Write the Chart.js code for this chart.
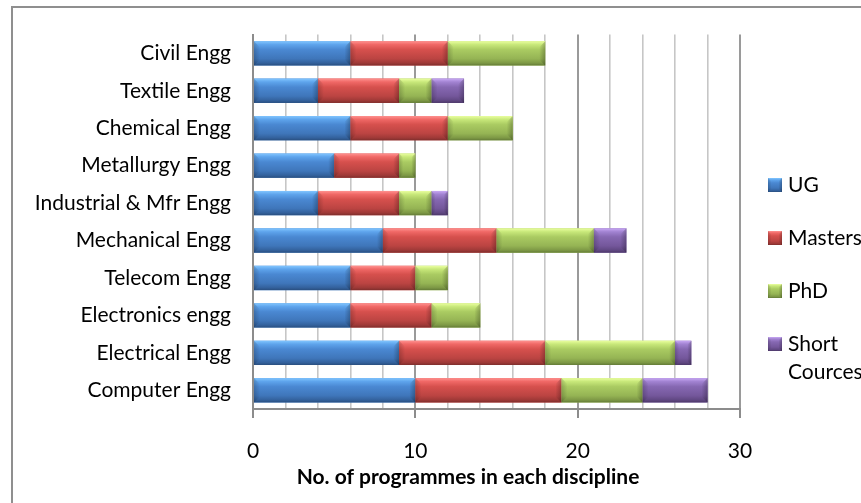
<!DOCTYPE html>
<html>
<head>
<meta charset="utf-8">
<script src="https://cdn.jsdelivr.net/npm/chart.js@4/dist/chart.umd.min.js"></script>
<style>
  html, body { margin: 0; padding: 0; background: #ffffff; }
  #wrap { width: 861px; height: 503px; }
</style>
</head>
<body>
<div id="wrap"><canvas id="chart" width="861" height="503"></canvas></div>
<script>
// Disciplines, listed top to bottom
const categories = [
  'Civil Engg', 'Textile Engg', 'Chemical Engg', 'Metallurgy Engg',
  'Industrial & Mfr Engg', 'Mechanical Engg', 'Telecom Engg',
  'Electronics engg', 'Electrical Engg', 'Computer Engg'
];

// Number of programmes per level
const ugValues      = [6, 4, 6, 5, 4, 8, 6, 6, 9, 10];
const mastersValues = [6, 5, 6, 4, 5, 7, 4, 5, 9, 9];
const phdValues     = [6, 2, 4, 1, 2, 6, 2, 3, 8, 5];
const shortValues   = [0, 2, 0, 0, 1, 2, 0, 0, 1, 4];

const seriesNames = ['UG', 'Masters', 'PhD', 'Short Cources'];

// Axis ticks: gridline every 2, label every 10
const labelledTicks = [0, 10, 20, 30];
const axisTitle = 'No. of programmes in each discipline';

const FONT = 'Lato, "Liberation Sans", sans-serif';

// Shading ramps (highlight -> edge) for the bevelled bars
const palette = [
  { base: '#4a88d2', hi: '#82c6ff', light: '#5ea4ec', mid: '#4a88d2', mid2: '#3f76ba', dark: '#33619c', edge: '#294e7e' },
  { base: '#d44f4c', hi: '#ff9290', light: '#f06866', mid: '#d6504d', mid2: '#bb4442', dark: '#9e3937', edge: '#7e2e2c' },
  { base: '#a9c862', hi: '#eaffa0', light: '#c8e87a', mid: '#aacb62', mid2: '#95b454', dark: '#7d9845', edge: '#637b37' },
  { base: '#8466b0', hi: '#c8a8f4', light: '#a283d2', mid: '#8668b2', mid2: '#74579b', dark: '#604782', edge: '#4c3868' }
];

function shadeRect(ctx, l, t, r, b, c) {
  const w = r - l, h = b - t;
  if (w < 0.5 || h < 0.5) return;
  ctx.save();
  const g = ctx.createLinearGradient(0, t, 0, b);
  g.addColorStop(0, c.hi);
  g.addColorStop(0.14, c.light);
  g.addColorStop(0.35, c.mid);
  g.addColorStop(0.72, c.mid2);
  g.addColorStop(0.9, c.dark);
  g.addColorStop(1, c.edge);
  ctx.fillStyle = g;
  ctx.fillRect(l, t, w, h);
  // bevelled ends
  const e = Math.min(6, w / 4);
  const gl = ctx.createLinearGradient(l, 0, l + e, 0);
  gl.addColorStop(0, 'rgba(0,0,0,0.18)');
  gl.addColorStop(1, 'rgba(0,0,0,0)');
  ctx.fillStyle = gl;
  ctx.beginPath();
  ctx.moveTo(l, t); ctx.lineTo(l + e, t + e); ctx.lineTo(l + e, b - e); ctx.lineTo(l, b); ctx.closePath();
  ctx.fill();
  const gr = ctx.createLinearGradient(r - e, 0, r, 0);
  gr.addColorStop(0, 'rgba(0,0,0,0)');
  gr.addColorStop(1, 'rgba(0,0,0,0.25)');
  ctx.fillStyle = gr;
  ctx.beginPath();
  ctx.moveTo(r, t); ctx.lineTo(r - e, t + e); ctx.lineTo(r - e, b - e); ctx.lineTo(r, b); ctx.closePath();
  ctx.fill();
  ctx.restore();
}

const decorPlugin = {
  id: 'decor',
  beforeDraw(chart) {
    const ctx = chart.ctx;
    ctx.save();
    ctx.fillStyle = '#ffffff';
    ctx.fillRect(0, 0, chart.width, chart.height);
    // chart frame (open towards right and bottom)
    ctx.strokeStyle = '#8f8f8f';
    ctx.lineWidth = 2;
    ctx.beginPath();
    ctx.moveTo(chart.width + 2, 7);
    ctx.lineTo(12, 7);
    ctx.lineTo(12, chart.height + 2);
    ctx.stroke();
    ctx.restore();
  },
  afterDatasetsDraw(chart) {
    const ctx = chart.ctx;
    chart.data.datasets.forEach((ds, i) => {
      const meta = chart.getDatasetMeta(i);
      if (meta.hidden) return;
      meta.data.forEach(bar => {
        const l = Math.min(bar.base, bar.x), r = Math.max(bar.base, bar.x);
        const t = bar.y - bar.height / 2, b = bar.y + bar.height / 2;
        shadeRect(ctx, l, t, r, b, palette[i]);
      });
    });
  },
  afterDraw(chart) {
    const ctx = chart.ctx;
    ctx.save();
    // axis title
    ctx.fillStyle = '#000000';
    ctx.font = 'bold 21px ' + FONT;
    ctx.textAlign = 'center';
    ctx.textBaseline = 'middle';
    ctx.fillText(axisTitle, 468, 477);

    // legend
    ctx.font = '21px ' + FONT;
    ctx.textAlign = 'left';
    const boxX = 768, textX = 788, maxW = 70;
    let y = 185;
    chart.data.datasets.forEach((ds, i) => {
      shadeRect(ctx, boxX, y - 7, boxX + 14, y + 7, palette[i]);
      // wrap words that do not fit
      const words = ds.label.split(' ');
      const lines = [];
      let cur = '';
      words.forEach(wd => {
        const test = cur ? cur + ' ' + wd : wd;
        if (cur && ctx.measureText(test).width > maxW) { lines.push(cur); cur = wd; }
        else cur = test;
      });
      lines.push(cur);
      ctx.fillStyle = '#000000';
      lines.forEach((ln, k) => ctx.fillText(ln, textX, y + k * 28));
      y += 53;
    });
    ctx.restore();
  }
};

const seriesValues = [ugValues, mastersValues, phdValues, shortValues];

new Chart(document.getElementById('chart'), {
  type: 'bar',
  data: {
    labels: categories,
    datasets: seriesNames.map((name, i) => ({
      label: name,
      data: seriesValues[i],
      backgroundColor: palette[i].base,
      borderWidth: 0,
      barPercentage: 0.65,
      categoryPercentage: 1.0
    }))
  },
  options: {
    indexAxis: 'y',
    responsive: false,
    animation: false,
    devicePixelRatio: 1,
    layout: { padding: { top: 30, right: 121, left: 0, bottom: 0 } },
    plugins: {
      legend: { display: false },
      tooltip: { enabled: false },
      title: { display: false }
    },
    scales: {
      y: {
        type: 'category',
        stacked: true,
        grid: { display: false, drawTicks: false },
        border: { display: true, color: '#8c8c8c', width: 2 },
        ticks: { color: '#000000', font: { family: FONT, size: 21 }, padding: 22 },
        afterFit(scale) { scale.width = 253; }
      },
      x: {
        type: 'linear',
        stacked: true,
        min: 0,
        max: 30,
        border: { display: true, color: '#8c8c8c', width: 2 },
        grid: {
          color: c => (c.tick && labelledTicks.includes(c.tick.value)) ? '#9a9a9a' : '#c6c6c6',
          lineWidth: c => (c.tick && labelledTicks.includes(c.tick.value)) ? 2 : 1.6,
          tickColor: c => (c.tick && labelledTicks.includes(c.tick.value)) ? '#8c8c8c' : 'rgba(0,0,0,0)',
          tickLength: 9,
          tickWidth: 2
        },
        ticks: {
          stepSize: 2,
          autoSkip: false,
          maxRotation: 0,
          color: '#000000',
          font: { family: FONT, size: 21 },
          padding: 21,
          callback: v => labelledTicks.includes(v) ? String(v) : ''
        },
        afterFit(scale) { scale.height = 94; }
      }
    }
  },
  plugins: [decorPlugin]
});
</script>
</body>
</html>
